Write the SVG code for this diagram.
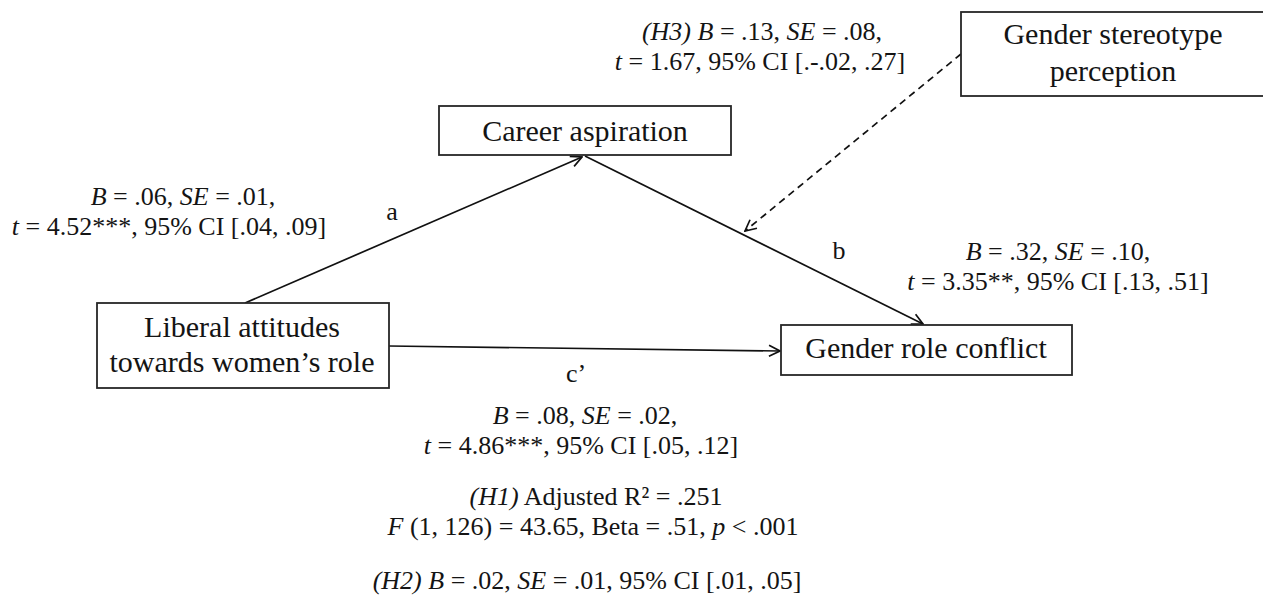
<svg xmlns="http://www.w3.org/2000/svg" width="1263" height="600" viewBox="0 0 1263 600">
<defs>
<style>
text{font-family:"Liberation Serif","Times New Roman",serif;font-size:26px;fill:#141414;text-anchor:middle}
.n{font-size:30px}
.i{font-style:italic}
.box{fill:#fff;stroke:#262626;stroke-width:1.8}
.ln{stroke:#111;stroke-width:1.7;fill:none}
.dash{stroke:#111;stroke-width:1.7;fill:none;stroke-dasharray:7 5}
</style>
<marker id="ah" viewBox="0 0 14 14" refX="13" refY="7" markerWidth="14" markerHeight="14" markerUnits="userSpaceOnUse" orient="auto">
<path d="M2,1.5 L13,7 L2,12.5" fill="none" stroke="#111" stroke-width="1.7"/>
</marker>
</defs>
<rect width="1263" height="600" fill="#fff"/>
<g id="connectors">
<line class="ln" x1="245" y1="303" x2="582" y2="157" marker-end="url(#ah)"/>
<line class="ln" x1="585" y1="156" x2="923" y2="324" marker-end="url(#ah)"/>
<line class="ln" x1="389" y1="346" x2="780" y2="351" marker-end="url(#ah)"/>
<line class="dash" x1="961" y1="54" x2="745" y2="231" marker-end="url(#ah)"/>
</g>
<g id="node-stereotype">
<rect class="box" x="961" y="12" width="320" height="84"/>
<text class="n" x="1113" y="44">Gender stereotype</text>
<text class="n" x="1113" y="81">perception</text>
</g>
<g id="node-career">
<rect class="box" x="439" y="106" width="292" height="49"/>
<text class="n" x="585" y="141">Career aspiration</text>
</g>
<g id="node-liberal">
<rect class="box" x="97" y="303" width="292" height="85"/>
<text class="n" x="242" y="337">Liberal attitudes</text>
<text class="n" x="242" y="372">towards women’s role</text>
</g>
<g id="node-conflict">
<rect class="box" x="781" y="325" width="291" height="50"/>
<text class="n" x="926" y="358">Gender role conflict</text>
</g>
<g id="labels">
<text x="762" y="40"><tspan class="i">(H3) B</tspan> = .13, <tspan class="i">SE</tspan> = .08,</text>
<text x="760" y="70"><tspan class="i">t</tspan> = 1.67, 95% CI [.-.02, .27]</text>
<text x="183" y="205"><tspan class="i">B</tspan> = .06, <tspan class="i">SE</tspan> = .01,</text>
<text x="169" y="235"><tspan class="i">t</tspan> = 4.52***, 95% CI [.04, .09]</text>
<text x="392" y="220">a</text>
<text x="839" y="259">b</text>
<text x="1058" y="260"><tspan class="i">B</tspan> = .32, <tspan class="i">SE</tspan> = .10,</text>
<text x="1058" y="290"><tspan class="i">t</tspan> = 3.35**, 95% CI [.13, .51]</text>
<text x="576" y="382">c’</text>
<text x="585" y="424"><tspan class="i">B</tspan> = .08, <tspan class="i">SE</tspan> = .02,</text>
<text x="581" y="454"><tspan class="i">t</tspan> = 4.86***, 95% CI [.05, .12]</text>
<text x="596" y="505"><tspan class="i">(H1)</tspan> Adjusted R² = .251</text>
<text x="593" y="535"><tspan class="i">F</tspan> (1, 126) = 43.65, Beta = .51, <tspan class="i">p</tspan> &lt; .001</text>
<text x="587" y="589"><tspan class="i">(H2) B</tspan> = .02, <tspan class="i">SE</tspan> = .01, 95% CI [.01, .05]</text>
</g>
</svg>
